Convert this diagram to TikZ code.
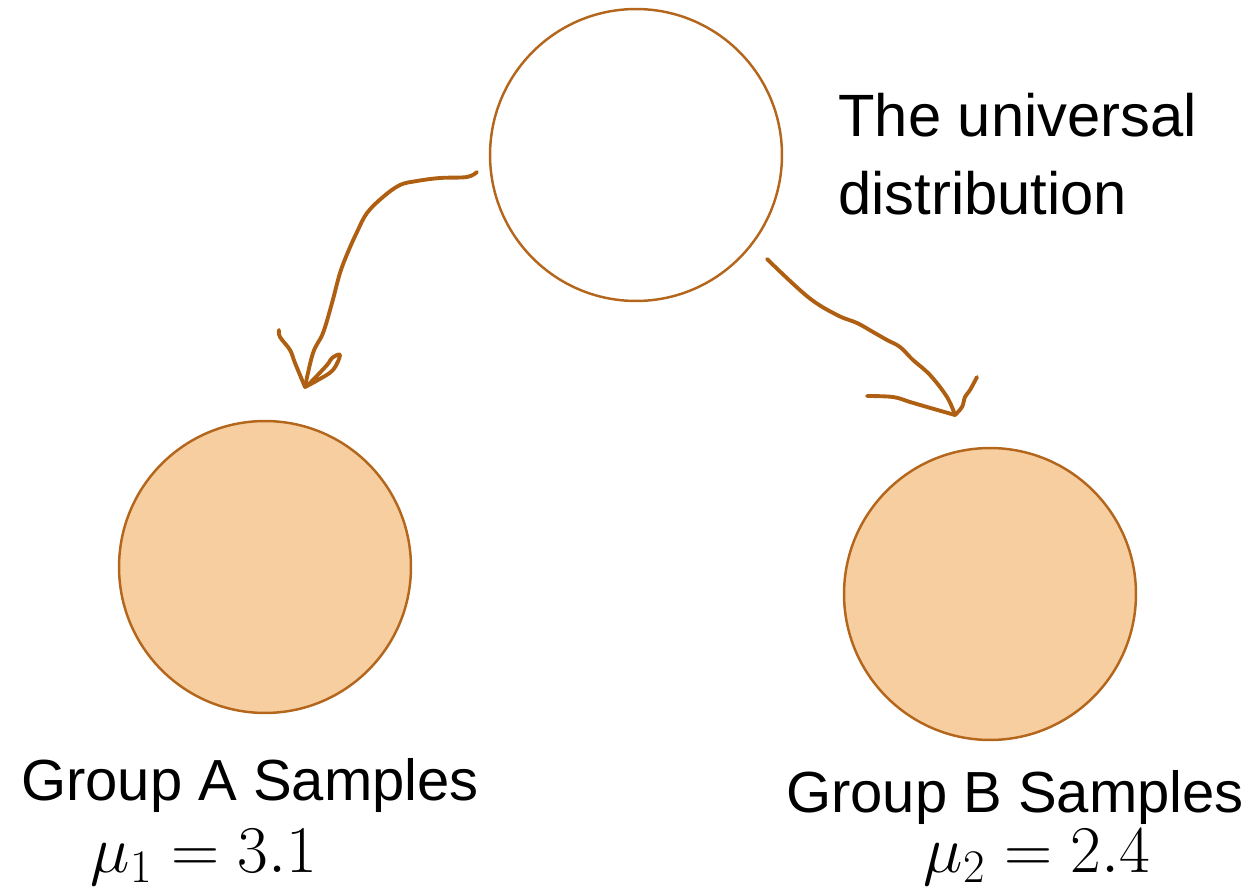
\RequirePackage{fix-cm}
\documentclass[tikz,border=0pt]{standalone}
\usepackage[no-math]{fontspec}
\setmainfont{Liberation Sans}
\definecolor{rim}{HTML}{B3661C}
\definecolor{ink}{HTML}{AE5F12}
\definecolor{peach}{HTML}{F7CE9F}
\begin{document}
\begin{tikzpicture}[x=0.02cm,y=-0.02cm,
  ball/.style={circle,draw=rim,line width=1.4pt,minimum size=5.84cm,inner sep=0pt},
  sample/.style={ball,fill=peach},
  scribble/.style={draw=ink,line width=2.2pt,line cap=round,line join=round},
  label/.style={inner sep=0pt,font=\fontsize{33}{40}\selectfont},
  mathlabel/.style={inner sep=0pt,font=\fontsize{38}{45}\selectfont}]
\useasboundingbox (0,0) rectangle (1254,891);

% populations
\node[ball]   (univ) at (636,155) {};
\node[sample] (grpA) at (265,567) {};
\node[sample] (grpB) at (990,594) {};

% labels
\node[label,font=\fontsize{34}{40}\selectfont,anchor=base west] (univT1) at (838,137) {The universal};
\node[label,font=\fontsize{34}{40}\selectfont,anchor=base west] (univT2) at (838,215) {distribution};
\node[label,anchor=base] (grpAT) at (250,800) {Group A Samples};
\node[mathlabel,anchor=base] (grpAM) at (204,872) {$\mu_1 = 3.1$};
\node[label,anchor=base] (grpBT) at (1015,812) {Group B Samples};
\node[mathlabel,anchor=base] (grpBM) at (1037,872) {$\mu_2 = 2.4$};

% hand-drawn arrow ends
\coordinate (aStart) at (477,172);
\coordinate (aTip)   at (305,387);
\coordinate (bStart) at (767,259);
\coordinate (bTip)   at (955,415);

% left arrow: shaft and head
\draw[scribble] plot[smooth,tension=0.6] coordinates {
  (aStart) (467,177) (440,178) (417,181) (400,185) (383,197) (367,213)
  (357,232) (348,252) (340,273) (332,303) (323,333) (313,353) (aTip)};
\draw[scribble] plot[smooth,tension=0.6] coordinates {
  (279,330) (280,337) (290,350) (295,363) (aTip)};
\draw[scribble] plot[smooth,tension=0.6] coordinates {
  (aTip) (318,380) (333,370) (340,355) (332,358) (327,365) (310,383) (aTip)};

% right arrow: shaft and head
\draw[scribble] plot[smooth,tension=0.6] coordinates {
  (bStart) (808,297) (837,315) (857,323) (873,332) (887,340) (900,347)
  (913,360) (930,375) (947,397) (bTip)};
\draw[scribble] plot[smooth,tension=0.6] coordinates {
  (867,396) (893,397) (910,402) (927,407) (bTip)};
\draw[scribble] plot[smooth,tension=0.6] coordinates {
  (bTip) (962,407) (965,397) (970,390) (977,377)};
\end{tikzpicture}
\end{document}
